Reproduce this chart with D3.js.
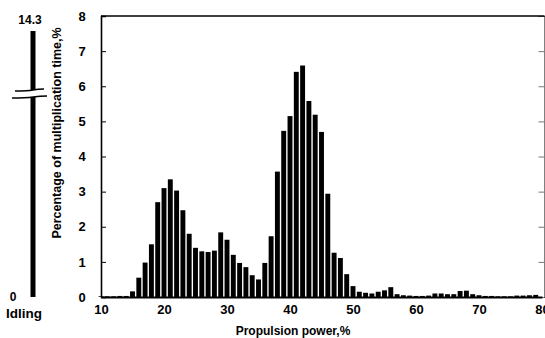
<!DOCTYPE html>
<html>
<head>
<meta charset="utf-8">
<script src="https://cdn.jsdelivr.net/npm/d3@7"></script>
<style>
  html, body { margin: 0; padding: 0; background: #fff; }
  svg { display: block; }
  text { font-family: "Liberation Sans", Arial, sans-serif; font-weight: bold; fill: #000; }
</style>
</head>
<body>
<svg id="chart" width="545" height="338"></svg>
<script>
// ---- data ----
const powerLevels = [10,11,12,13,14,15,16,17,18,19,20,21,22,23,24,25,26,27,28,29,
                     30,31,32,33,34,35,36,37,38,39,40,41,42,43,44,45,46,47,48,49,
                     50,51,52,53,54,55,56,57,58,59,60,61,62,63,64,65,66,67,68,69,
                     70,71,72,73,74,75,76,77,78,79];
const timeShare = [0.02,0.02,0.02,0.03,0.03,0.16,0.55,0.98,1.50,2.70,3.10,3.35,3.03,2.47,1.80,1.40,1.30,1.28,1.32,1.84,
                   1.63,1.20,0.97,0.85,0.62,0.50,0.97,1.73,3.57,4.73,5.15,6.41,6.59,5.58,5.19,4.70,2.94,1.26,1.11,0.65,
                   0.31,0.15,0.12,0.10,0.15,0.19,0.28,0.08,0.05,0.04,0.03,0.03,0.04,0.10,0.10,0.08,0.08,0.17,0.18,0.08,
                   0.05,0.03,0.03,0.02,0.02,0.02,0.04,0.04,0.05,0.06];
const idlingValue = 14.3;
const xTicks = [10,20,30,40,50,60,70,80];
const yTicks = [0,1,2,3,4,5,6,7,8];

// ---- layout ----
const svg = d3.select("#chart");
const L = 101, R = 544.5, T = 16, B = 297;

const x = d3.scaleLinear().domain([10, 80]).range([L, 542]);
const y = d3.scaleLinear().domain([0, 8]).range([B, T]);
const yIdle = d3.scaleLinear().domain([0, idlingValue]).range([B, 31]);

const barW = (x(1) - x(0)) * 0.78;

// bars
svg.append("g").selectAll("rect")
  .data(powerLevels.map((p, i) => ({p, v: timeShare[i]})))
  .join("rect")
  .attr("x", d => x(d.p) - barW / 2)
  .attr("width", barW)
  .attr("y", d => y(d.v))
  .attr("height", d => Math.max(0, B - y(d.v)))
  .attr("fill", "#000");

// left axis
const gL = svg.append("g").attr("transform", `translate(${L},0)`)
  .call(d3.axisRight(y).tickValues(yTicks).tickSize(5).tickFormat(""));
gL.select(".domain").attr("stroke-width", 1.6);
gL.selectAll(".tick line").attr("stroke-width", 1);
// right axis
const gR = svg.append("g").attr("transform", `translate(${R},0)`)
  .call(d3.axisLeft(y).tickValues(yTicks).tickSize(6).tickFormat(""));
gR.select(".domain").attr("stroke-width", 1);
gR.selectAll(".tick line").attr("stroke", "#777");
// top line
svg.append("line").attr("x1", L).attr("x2", R).attr("y1", T).attr("y2", T)
  .attr("stroke", "#000").attr("stroke-width", 1.6);
// bottom axis
const gB = svg.append("g").attr("transform", `translate(0,${B})`)
  .call(d3.axisBottom(x).tickValues(xTicks).tickSize(0).tickPadding(8));
gB.select(".domain").attr("stroke-width", 1.8);
gB.selectAll("text").attr("font-size", 13).attr("font-family", "Liberation Sans, Arial, sans-serif")
  .attr("font-weight", "bold");

// y tick labels
svg.append("g").selectAll("text").data(yTicks).join("text")
  .attr("x", 82).attr("y", d => y(d)).attr("dy", "0.36em")
  .attr("text-anchor", "middle").attr("font-size", 13).text(d => d);

// y title
svg.append("text")
  .attr("transform", `translate(61,133) rotate(-90)`)
  .attr("text-anchor", "middle").attr("font-size", 12.5)
  .text("Percentage of multiplication time,%");

// x title
svg.append("text").attr("x", 293).attr("y", 335)
  .attr("text-anchor", "middle").attr("font-size", 12)
  .text("Propulsion power,%");

// idling bar with break
const ix = 33, iw = 5;
const breakTop = 90, breakBot = 97;
svg.append("rect").attr("x", ix - iw / 2).attr("width", iw)
  .attr("y", yIdle(idlingValue)).attr("height", breakTop - yIdle(idlingValue)).attr("fill", "#000");
svg.append("rect").attr("x", ix - iw / 2).attr("width", iw)
  .attr("y", breakBot).attr("height", yIdle(0) - breakBot).attr("fill", "#000");
svg.append("path").attr("d", `M15,${breakTop + 1} Q28,${breakTop + 1} 33,${breakTop} T44,${breakTop - 1}`)
  .attr("fill", "none").attr("stroke", "#000").attr("stroke-width", 1.3);
svg.append("path").attr("d", `M12,${breakBot + 1} Q26,${breakBot + 1} 33,${breakBot} T47,${breakBot - 1}`)
  .attr("fill", "none").attr("stroke", "#000").attr("stroke-width", 1.3);

svg.append("text").attr("x", 30).attr("y", 24).attr("text-anchor", "middle")
  .attr("font-size", 12).text(idlingValue);
svg.append("text").attr("x", 13).attr("y", yIdle(0)).attr("dy", "0.36em")
  .attr("text-anchor", "middle").attr("font-size", 12).text("0");
svg.append("text").attr("x", 24).attr("y", 318).attr("text-anchor", "middle")
  .attr("font-size", 13.5).text("Idling");
</script>
</body>
</html>
